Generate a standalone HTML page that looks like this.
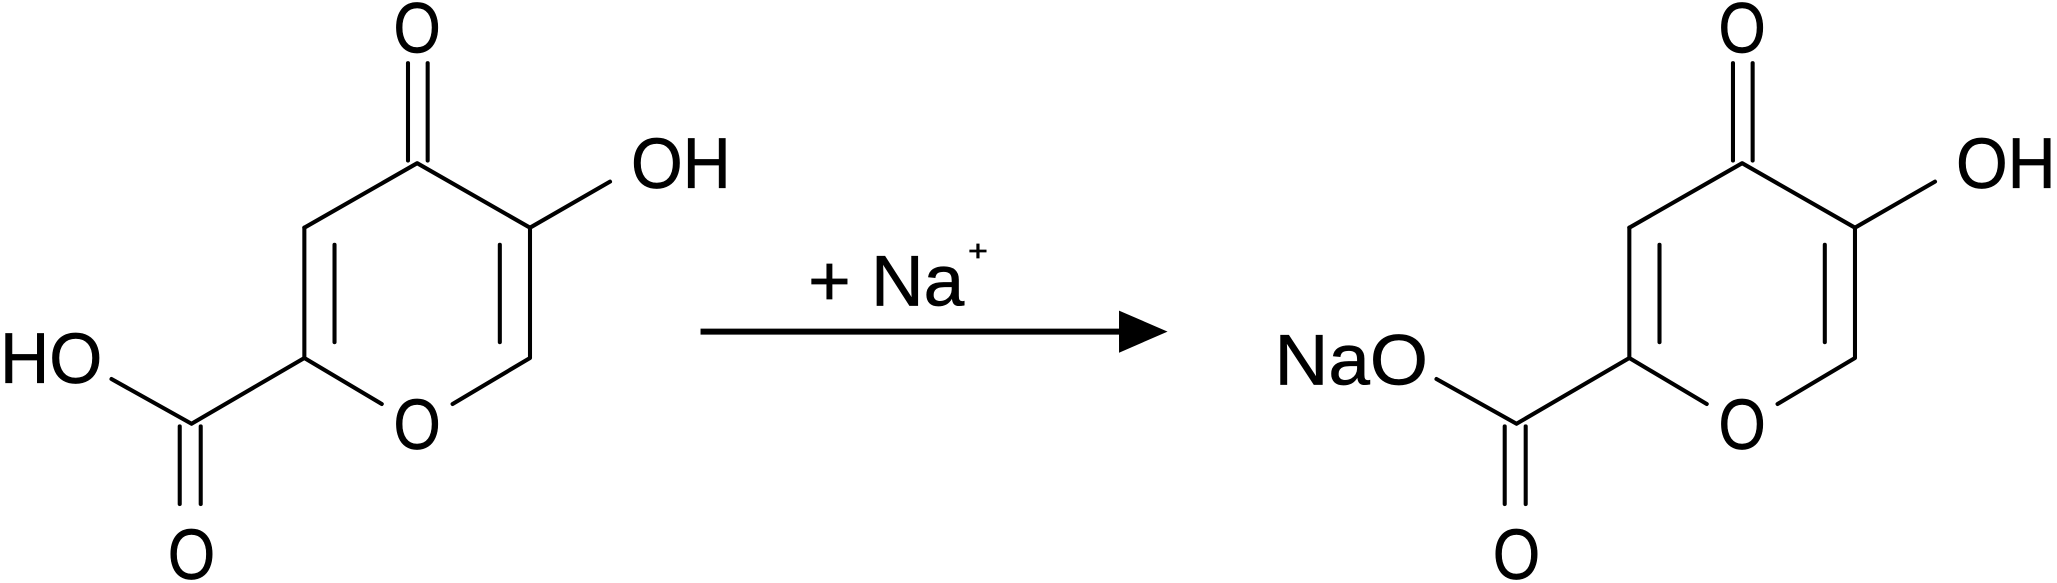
<!DOCTYPE html>
<html><head><meta charset="utf-8"><style>
html,body{margin:0;padding:0;background:#fff;}
svg{display:block}
text{font-family:"Liberation Sans",Arial,sans-serif;fill:#000;stroke:#000;stroke-width:0.5;}
</style></head><body>
<svg width="2057" height="583" viewBox="0 0 1568 443" preserveAspectRatio="none" xmlns="http://www.w3.org/2000/svg">
<defs>
<g id="mol" stroke="#000" stroke-width="3.1" stroke-linecap="round" stroke-linejoin="round" fill="none">
  <line x1="311" y1="48" x2="311" y2="122"/>
  <line x1="326" y1="48" x2="326" y2="122"/>
  <polyline points="232,173 318,124 404,173 404,272 345,307"/>
  <polyline points="291,307 232,272 232,173"/>
  <line x1="255" y1="186" x2="255" y2="260"/>
  <line x1="381" y1="186" x2="381" y2="260"/>
  <line x1="404" y1="173" x2="465" y2="138"/>
  <polyline points="232,272 146,322 85,288"/>
  <line x1="137" y1="324" x2="137" y2="383"/>
  <line x1="153" y1="324" x2="153" y2="383"/>
</g>
</defs>
<use href="#mol"/>
<use href="#mol" transform="translate(1010,0)"/>
<g font-size="54" text-anchor="middle">
  <text x="318" y="40" textLength="36" lengthAdjust="spacingAndGlyphs">O</text>
  <text x="318" y="341" textLength="36" lengthAdjust="spacingAndGlyphs">O</text>
  <text x="146" y="440" textLength="36" lengthAdjust="spacingAndGlyphs">O</text>
  <text x="519" y="143" textLength="76" lengthAdjust="spacingAndGlyphs">OH</text>
  <text x="39" y="291" textLength="78" lengthAdjust="spacingAndGlyphs">HO</text>
  <text x="1328" y="40" textLength="36" lengthAdjust="spacingAndGlyphs">O</text>
  <text x="1328" y="341" textLength="36" lengthAdjust="spacingAndGlyphs">O</text>
  <text x="1156" y="440" textLength="36" lengthAdjust="spacingAndGlyphs">O</text>
  <text x="1529" y="143" textLength="76" lengthAdjust="spacingAndGlyphs">OH</text>
  <text x="1030" y="292" textLength="117" lengthAdjust="spacingAndGlyphs">NaO</text>
</g>
<text x="616" y="232" font-size="54" textLength="119" lengthAdjust="spacingAndGlyphs">+ Na</text>
<text x="738" y="198" font-size="22" textLength="15" lengthAdjust="spacingAndGlyphs">+</text>
<line x1="534" y1="252" x2="855" y2="252" stroke="#000" stroke-width="4.5"/>
<polygon points="853,236 890,252 853,268" fill="#000"/>
</svg>
</body></html>
